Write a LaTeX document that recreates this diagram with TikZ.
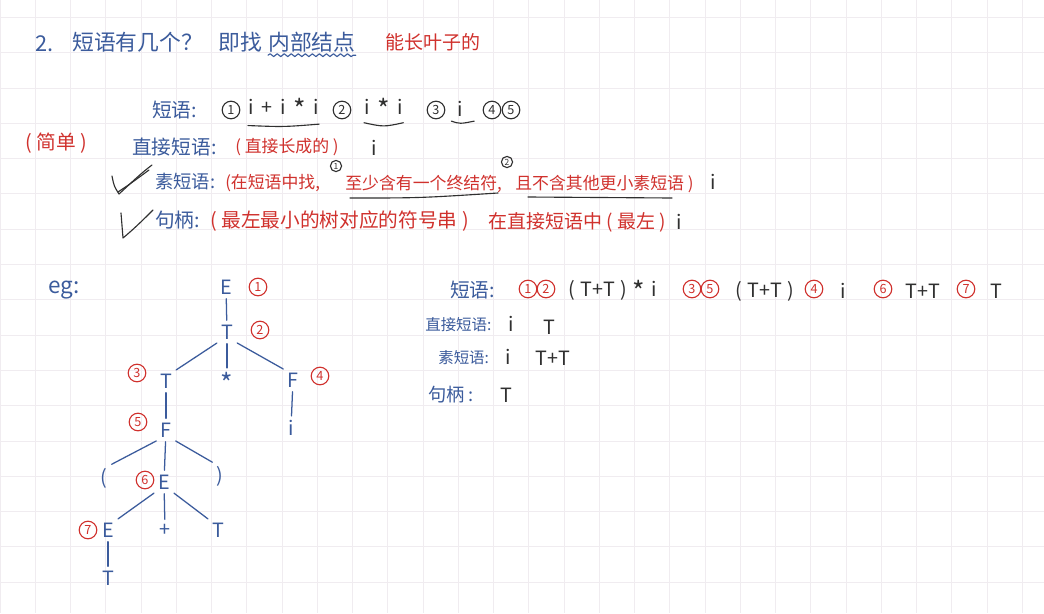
\documentclass[tikz,border=0pt]{standalone}
\usepackage{fontspec}
\setmainfont{Noto Sans CJK SC}
\usetikzlibrary{decorations.pathmorphing}
\definecolor{penblue}{HTML}{3B5B9C}
\definecolor{penred}{HTML}{D0312D}
\definecolor{penink}{HTML}{303030}
\definecolor{gridln}{HTML}{F0ECF0}
\newcommand{\penfs}[1]{\fontsize{#1}{#1}\selectfont}
\newcommand{\pgap}{\hspace{4pt}}
\newcommand{\wgap}{\hspace{5.5pt}}
\newcommand{\past}{\raisebox{-4pt}{\penfs{19}*}}
\tikzset{
  lbl/.style={text=penblue, font=\penfs{14}, anchor=west, inner sep=0pt},
  note/.style={text=penred, font=\penfs{12}, anchor=west, inner sep=0pt},
  ink/.style={text=penink, font=\penfs{14}, anchor=west, inner sep=0pt},
  ttl/.style={text=penblue, font=\penfs{15.5}, anchor=west, inner sep=0pt},
  tnode/.style={text=penblue, font=\penfs{14}, inner sep=2pt},
  tedge/.style={draw=penblue, line width=0.9pt, line cap=round, shorten <=1pt, shorten >=1pt},
  rnum/.style={draw=penred, text=penred, circle, line width=0.8pt, inner sep=0pt,
               minimum size=0.44cm, font=\penfs{9}},
  knum/.style={rnum, draw=penink, text=penink},
  snum/.style={knum, minimum size=0.28cm, font=\penfs{6}},
  pen/.style={line width=0.8pt, line cap=round, line join=round},
}

\begin{document}
\begin{tikzpicture}[x=0.025cm, y=-0.025cm]
    \useasboundingbox (0,0) rectangle (1044,613);
    % squared paper
    \fill[white] (0,0) rectangle (1044,613);
    \foreach \gx in {0,...,29} \draw[gridln, line width=0.6pt] (\gx*35.25,0) -- (\gx*35.25,613);
    \foreach \gy in {0,...,16} \draw[gridln, line width=0.6pt] (0,17.4+\gy*35.3) -- (1044,17.4+\gy*35.3);

    % heading
    \node[ttl] (hnum) at (35,44) {2.};
    \node[ttl] (hask) at (72,42) {短语有几个？};
    \node[ttl] (hfind) at (218,42) {即找};
    \node[ttl] (hinner) at (268,42) {内部结点};
    \node[ttl, text=penred, font=\penfs{13.5}] (hleaf) at (385,42) {能长叶子的};
    \draw[pen, penblue, decorate, decoration={snake, amplitude=1pt, segment length=5pt}]
      ([yshift=-2pt]hinner.south west) -- ([yshift=-2pt]hinner.south east);

    % definitions
    \node[note, font=\penfs{14}] (simple) at (25,143) {( 简单 )};
    \node[lbl] (dphr) at (152,110) {短语:};
    \node[knum] (k1) at (231,110) {1};
    \node[ink] (s1) at (248,109) {i\wgap+\wgap i\wgap\past\wgap i};
    \node[knum] (k2) at (342,110) {2};
    \node[ink] (s2) at (364,109) {i\wgap\past\wgap i};
    \node[knum] (k3) at (436,110) {3};
    \node[ink] (s3) at (457,109) {i};
    \node[knum] (k4) at (492,110) {4};
    \node[knum] (k5) at (511,110) {5};
    \draw[pen, penink] ([yshift=-4pt]s1.south west) .. controls ([yshift=-5pt]s1.south) .. ([yshift=-3pt]s1.south east);
    \draw[pen, penink] ([yshift=-2pt]s2.south west) .. controls ([yshift=-5pt]s2.south) .. ([yshift=-2pt]s2.south east);
    \draw[pen, penink] ([xshift=-4pt,yshift=-3pt]s3.south west) .. controls ([yshift=-5pt]s3.south) .. ([xshift=8pt,yshift=-3pt]s3.south east);

    \node[lbl] (ddir) at (132,147) {直接短语:};
    \node[note] (ndir) at (235,147) {( 直接长成的 )};
    \node[ink] (adir) at (371,148) {i};

    \draw[pen, penink] (112,176) .. controls (114,186) .. (119,194) .. controls (130,184) and (140,174) .. (152,165);
    \draw[pen, penink] (118,192) .. controls (130,184) .. (149,170);
    \node[lbl, font=\penfs{13}] (dprime) at (155,182) {素短语:};
    \node[note] (np1) at (225,183) {(在短语中找,};
    \node[snum] (sn1) at (336,166) {1};
    \node[note] (np2) at (345,184) {至少含有一个终结符,};
    \node[snum] (sn2) at (507,162) {2};
    \node[note] (np3) at (515,184) {且不含其他更小素短语 )};
    \node[ink] (aprime) at (710,182) {i};
    \draw[pen, penink] (350,198) .. controls (420,198) .. (498,193);
    \draw[pen, penink] (528,197) .. controls (600,198) .. (672,198);

    \draw[pen, penink] (121,213) .. controls (122,226) .. (123,238) .. controls (135,228) and (145,218) .. (153,210);
    \node[lbl] (dhandle) at (155,220) {句柄:};
    \node[note, font=\penfs{14}] (nh1) at (210,221) {( 最左最小的树对应的符号串 )};
    \node[note, font=\penfs{13.5}] (nh2) at (488,222) {在直接短语中 ( 最左 )};
    \node[ink] (ahandle) at (676,222) {i};

    % example tree
    \node[lbl, font=\penfs{16}] (eg) at (48,290) {eg:};
    \node[tnode] (nE1) at (226,287) {E};
    \node[tnode] (nT2) at (227,332) {T};
    \node[tnode] (nT3) at (166,381) {T};
    \node[tnode] (nStar) at (227,383) {\past};
    \node[tnode] (nF4) at (293,380) {F};
    \node[tnode] (ni) at (291,428) {i};
    \node[tnode] (nF5) at (166,430) {F};
    \node[tnode] (nLp) at (104,478) {(};
    \node[tnode] (nE6) at (164,482) {E};
    \node[tnode] (nRp) at (220,476) {)};
    \node[tnode] (nE7) at (108,530) {E};
    \node[tnode] (nPlus) at (165,530) {+};
    \node[tnode] (nT8) at (218,530) {T};
    \node[tnode] (nT9) at (108,578) {T};
    \draw[tedge] (nE1) -- (nT2);
    \draw[tedge] (nT2.south west) -- (nT3.north east);
    \draw[tedge] (nT2) -- (nStar);
    \draw[tedge] (nT2.south east) -- (nF4.north west);
    \draw[tedge] (nF4) -- (ni);
    \draw[tedge] (nT3) -- (nF5);
    \draw[tedge] (nF5.south west) -- (nLp.north east);
    \draw[tedge] (nF5) -- (nE6);
    \draw[tedge] (nF5.south east) -- (nRp.north west);
    \draw[tedge] (nE6.south west) -- (nE7.north east);
    \draw[tedge] (nE6) -- (nPlus);
    \draw[tedge] (nE6.south east) -- (nT8.north west);
    \draw[tedge] (nE7) -- (nT9);
    \node[rnum] (r1) at (258,287) {1};
    \node[rnum] (r2) at (260,330) {2};
    \node[rnum] (r3) at (137,373) {3};
    \node[rnum] (r4) at (320,376) {4};
    \node[rnum] (r5) at (138,422) {5};
    \node[rnum] (r6) at (145,480) {6};
    \node[rnum] (r7) at (88,530) {7};

    % phrases of the example
    \node[lbl] (ephr) at (450,290) {短语:};
    \node[rnum] (e1) at (528,289) {1};
    \node[rnum] (e2) at (546,289) {2};
    \node[ink] (ep12) at (568,291) {(\pgap T+T\pgap)\pgap\past\pgap i};
    \node[rnum] (e3) at (692,289) {3};
    \node[rnum] (e5) at (710,289) {5};
    \node[ink] (ep35) at (735,291) {(\pgap T+T\pgap)};
    \node[rnum] (e4) at (814,289) {4};
    \node[ink] (ep4) at (840,291) {i};
    \node[rnum] (e6) at (883,289) {6};
    \node[ink] (ep6) at (905,291) {T+T};
    \node[rnum] (e7) at (966,289) {7};
    \node[ink] (ep7) at (990,291) {T};
    \node[lbl, font=\penfs{11}] (edir) at (425,325) {直接短语:};
    \node[ink] (ed1) at (508,324) {i};
    \node[ink] (ed2) at (543,327) {T};
    \node[lbl, font=\penfs{11}] (eprime) at (438,358) {素短语:};
    \node[ink] (ee1) at (505,357) {i};
    \node[ink] (ee2) at (535,358) {T+T};
    \node[lbl, font=\penfs{13}] (ehandle) at (428,395) {句柄\ :};
    \node[ink] (eh1) at (500,395) {T};
\end{tikzpicture}
\end{document}
